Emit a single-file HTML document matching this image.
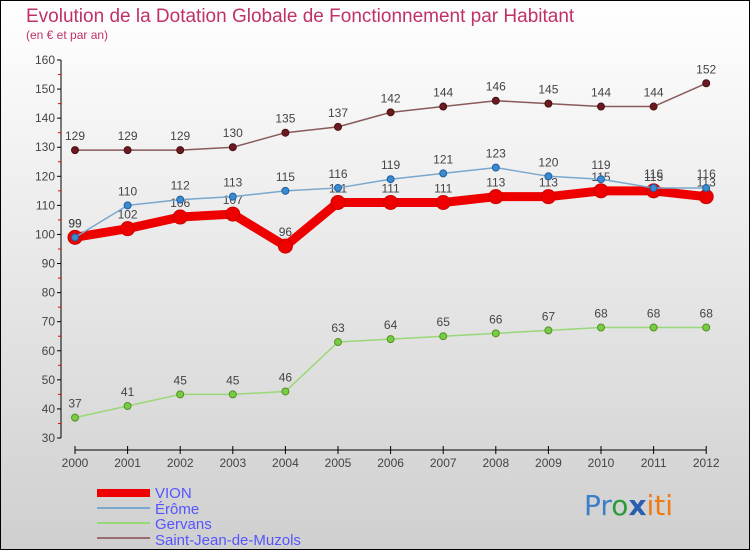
<!DOCTYPE html>
<html><head><meta charset="utf-8"><style>
body{margin:0;width:750px;height:550px;overflow:hidden;font-family:"Liberation Sans",sans-serif}
</style></head><body>
<svg width="750" height="550" xmlns="http://www.w3.org/2000/svg">
<defs><linearGradient id="bg" x1="0" y1="0" x2="0" y2="1"><stop offset="0" stop-color="#ffffff"/><stop offset="1" stop-color="#cfcfcf"/></linearGradient></defs>
<rect x="0.5" y="0.5" width="749" height="549" fill="url(#bg)" stroke="#000"/>
<text x="26" y="22" font-size="19" fill="#c0306a">Evolution de la Dotation Globale de Fonctionnement par Habitant</text>
<text x="26" y="39" font-size="12" fill="#c0306a">(en € et par an)</text>
<g id="axes"></g><g id="series"></g>
<g>
<rect x="97" y="489" width="53" height="8" fill="#ee0000"/>
<text x="155" y="498" font-size="15" fill="#5555ff">VION</text>
<rect x="97" y="507" width="53" height="2" fill="#7aa7cc"/>
<text x="155" y="514" font-size="15" fill="#5555ff">Érôme</text>
<rect x="97" y="522" width="53" height="2" fill="#99d877"/>
<text x="155" y="529" font-size="15" fill="#5555ff">Gervans</text>
<rect x="97" y="537" width="53" height="2" fill="#9a6e6e"/>
<text x="155" y="545" font-size="15" fill="#5555ff">Saint-Jean-de-Muzols</text>
</g>
<g font-size="28" font-family="DejaVu Sans, sans-serif">
<text x="584" y="515"><tspan fill="#3a7fc8">Pr</tspan><tspan fill="#2a9a3a">o</tspan><tspan fill="#2a5fb0" font-weight="bold">x</tspan><tspan fill="#f07a10">iti</tspan></text>
</g>
</svg>
<script>
const years=["2000","2001","2002","2003","2004","2005","2006","2007","2008","2009","2010","2011","2012"];
const yTicks=[30,40,50,60,70,80,90,100,110,120,130,140,150,160];
const vion=[99,102,106,107,96,111,111,111,113,113,115,115,113];
const erome=[99,110,112,113,115,116,119,121,123,120,119,116,116];
const gervans=[37,41,45,45,46,63,64,65,66,67,68,68,68];
const sjm=[129,129,129,130,135,137,142,144,146,145,144,144,152];
const NS="http://www.w3.org/2000/svg";
const X=i=>75+i*52.6;
const Y=v=>438-(v-30)*(378/130);
function mk(tag,attrs,parent){const e=document.createElementNS(NS,tag);for(const k in attrs)e.setAttribute(k,attrs[k]);parent.appendChild(e);return e;}
const ax=document.getElementById('axes');
let l=mk('line',{x1:61,y1:Y(160),x2:61,y2:Y(30),stroke:'#000'},ax);


yTicks.forEach(v=>{
 mk('line',{x1:57,y1:Y(v),x2:61,y2:Y(v),stroke:'#000'},ax);
 if(v<160)mk('line',{x1:58,y1:Y(v+5),x2:61,y2:Y(v+5),stroke:'#e00'},ax);
 const t=mk('text',{x:55,y:Y(v)+4,'font-size':12,fill:'#444','text-anchor':'end'},ax);t.textContent=v;
 
 
});
l=mk('line',{x1:X(0),y1:450,x2:X(12),y2:450,stroke:'#000'},ax);


years.forEach((y,i)=>{
 mk('line',{x1:X(i),y1:446,x2:X(i),y2:454,stroke:'#000'},ax);
 const t=mk('text',{x:X(i),y:467,'font-size':12,fill:'#444','text-anchor':'middle'},ax);t.textContent=y;
 
 
});
const sg=document.getElementById('series');
function series(d,name,color,w,r,dot,stroke){
 const g=mk('g',{},sg);
 
 
 mk('polyline',{points:d.map((v,i)=>X(i)+','+Y(v)).join(' '),fill:'none',stroke:color,'stroke-width':w,'stroke-linejoin':'round'},g);
 d.forEach((v,i)=>{
  const c=mk('circle',{cx:X(i),cy:Y(v),r:r,fill:dot,stroke:stroke,'stroke-width':1},g);
  
  
  const t=mk('text',{x:X(i),y:Y(v)-10,'font-size':12,fill:'#444','text-anchor':'middle'},g);t.textContent=v;
  
  
 });
}
series(sjm,'saint-jean','#8a5a5a',1.5,3.5,'#6a1a20','#4a1010');
series(gervans,'gervans','#99d877',1.5,3.5,'#77cc44','#55902a');
series(vion,'vion','#ee0000',9,7,'#ee0000','#cc0000');
series(erome,'erome','#7aa7cc',1.5,3.5,'#3a8ad0','#2060a0');
</script>
</body></html>
